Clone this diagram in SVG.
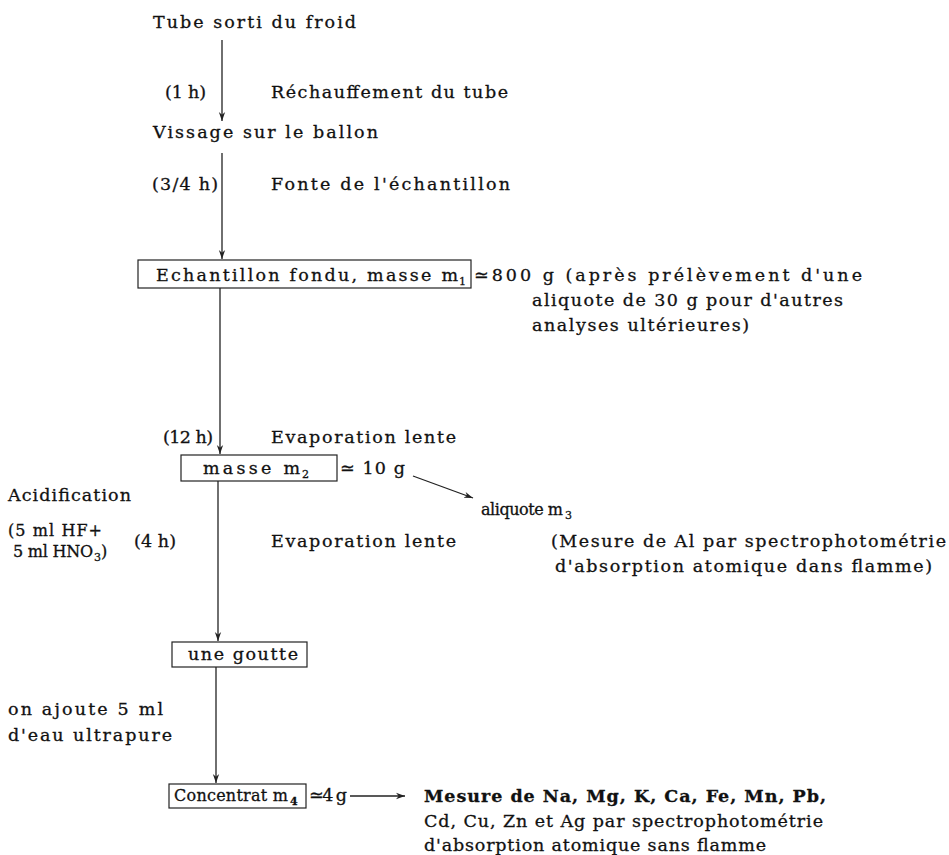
<svg xmlns="http://www.w3.org/2000/svg" width="949" height="855" viewBox="0 0 949 855">
<defs>
<style>
text{font-family:"DejaVu Serif","Liberation Serif",serif;font-size:17.5px;fill:#111;stroke:#111;stroke-width:0.3}
.b{font-weight:bold}
.sub{font-size:11px}
.sm{font-size:16px}
.sym{font-family:"DejaVu Sans",sans-serif}
.box{fill:none;stroke:#222;stroke-width:1.2}
.ln{stroke:#222;stroke-width:1.3;fill:none}
</style>
<marker id="ah" viewBox="0 0 10 10" refX="10" refY="5" markerWidth="9" markerHeight="9" orient="auto" markerUnits="userSpaceOnUse">
<path d="M0,1.5 L10,5 L0,8.5 L3,5 Z" fill="#222"/>
</marker>
</defs>
<rect width="949" height="855" fill="#fff"/>

<g id="n-tube"><text x="153" y="28" textLength="203" lengthAdjust="spacing">Tube sorti du froid</text></g>
<g id="l-1h"><text x="165" y="98" textLength="41" lengthAdjust="spacing">(1 h)</text>
<text x="271" y="98" textLength="237" lengthAdjust="spacing">Réchauffement du tube</text></g>
<g id="n-vissage"><text x="153" y="138" textLength="225" lengthAdjust="spacing">Vissage sur le ballon</text></g>
<g id="l-34h"><text x="152" y="190" textLength="66" lengthAdjust="spacing">(3/4 h)</text>
<text x="271" y="190" textLength="239" lengthAdjust="spacing">Fonte de l'échantillon</text></g>

<g id="n-fondu"><rect class="box" x="138" y="260" width="333" height="28"/>
<text x="156" y="281" textLength="302" lengthAdjust="spacing">Echantillon fondu, masse m</text><text class="sub" x="459" y="285">1</text></g>
<g id="l-800"><text x="474" y="281" textLength="388" lengthAdjust="spacing"><tspan class="sym">≃</tspan>800 g (après prélèvement d'une</text>
<text x="532" y="306" textLength="311" lengthAdjust="spacing">aliquote de 30 g pour d'autres</text>
<text x="532" y="331" textLength="217" lengthAdjust="spacing">analyses ultérieures)</text></g>

<g id="l-12h"><text x="163" y="443" textLength="50" lengthAdjust="spacing">(12 h)</text>
<text x="271" y="443" textLength="185" lengthAdjust="spacing">Evaporation lente</text></g>

<g id="n-m2"><rect class="box" x="181" y="455" width="156" height="26"/>
<text x="203" y="474" textLength="97" lengthAdjust="spacing">masse  m</text><text class="sub" x="302" y="478">2</text></g>
<g id="l-10g"><text x="340" y="474" textLength="65" lengthAdjust="spacing"><tspan class="sym">≃</tspan> 10 g</text></g>

<g id="n-m3"><text x="481" y="515" style="font-size:16px" textLength="82" lengthAdjust="spacing">aliquote m</text><text class="sub" x="565" y="519">3</text>
<text x="551" y="547" textLength="395" lengthAdjust="spacing">(Mesure de Al par spectrophotométrie</text>
<text x="555" y="572" textLength="377" lengthAdjust="spacing">d'absorption atomique dans flamme)</text></g>

<g id="l-acid"><text x="8" y="501" textLength="123" lengthAdjust="spacing">Acidification</text>
<text class="sm" x="8" y="536" textLength="94" lengthAdjust="spacing">(5 ml HF+</text>
<text class="sm" x="13" y="557" textLength="80" lengthAdjust="spacing">5 ml HNO</text><text class="sub" x="94" y="561">3</text><text class="sm" x="101" y="557">)</text>
<text x="134" y="547" textLength="42" lengthAdjust="spacing">(4 h)</text>
<text x="271" y="547" textLength="185" lengthAdjust="spacing">Evaporation lente</text></g>

<g id="n-goutte"><rect class="box" x="172" y="642" width="135" height="25"/>
<text x="188" y="660" textLength="110" lengthAdjust="spacing">une goutte</text></g>

<g id="l-eau"><text x="8" y="715" textLength="155" lengthAdjust="spacing">on ajoute 5 ml</text>
<text x="8" y="741" textLength="164" lengthAdjust="spacing">d'eau ultrapure</text></g>

<g id="n-conc"><rect class="box" x="169" y="784" width="137" height="24"/>
<text class="sm" x="174" y="801" textLength="114" lengthAdjust="spacing">Concentrat m</text><text class="sub b" x="290" y="805">4</text></g>
<g id="l-4g"><text x="309" y="801" textLength="38" lengthAdjust="spacing"><tspan class="sym">≃</tspan>4 g</text></g>

<g id="n-mesure"><text class="b" x="424" y="802" textLength="402" lengthAdjust="spacing">Mesure de Na, Mg, K, Ca, Fe, Mn, Pb,</text>
<text x="424" y="827" textLength="399" lengthAdjust="spacing">Cd, Cu, Zn et Ag par spectrophotométrie</text>
<text x="424" y="851" textLength="342" lengthAdjust="spacing">d'absorption atomique sans flamme</text></g>

<g id="connectors">
<line class="ln" x1="222" y1="40" x2="222" y2="121" marker-end="url(#ah)"/>
<line class="ln" x1="222" y1="153" x2="222" y2="259" marker-end="url(#ah)"/>
<line class="ln" x1="220" y1="288" x2="220" y2="454" marker-end="url(#ah)"/>
<line class="ln" x1="413" y1="476" x2="473" y2="498" marker-end="url(#ah)"/>
<line class="ln" x1="218" y1="481" x2="218" y2="641" marker-end="url(#ah)"/>
<line class="ln" x1="216" y1="667" x2="216" y2="783" marker-end="url(#ah)"/>
<line class="ln" x1="350" y1="796" x2="405" y2="796" marker-end="url(#ah)"/>
</g>
</svg>
